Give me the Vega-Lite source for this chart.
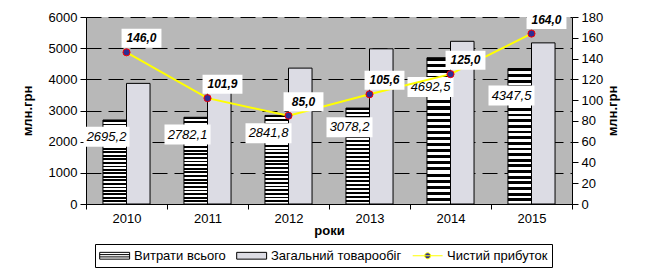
{
  "$schema": "https://vega.github.io/schema/vega-lite/v6.json",
  "width": 486,
  "height": 187,
  "autosize": {"type": "none"},
  "padding": {"left": 86, "top": 17, "right": 76, "bottom": 72},
  "background": "white",
  "config": {
    "locale": {"number": {"decimal": ",", "thousands": "", "grouping": [3], "currency": ["", ""]}},
    "view": {"fill": "#b8b8b8", "stroke": null},
    "font": "Liberation Sans",
    "axis": {"labelFont": "Liberation Sans", "labelFontSize": 13, "labelColor": "black", "domainColor": "black", "tickColor": "black", "titleFont": "Liberation Sans", "titleFontSize": 13, "titleFontWeight": "bold", "titleColor": "black", "labelOverlap": false}
  },
  "data": {"values": [
    {"year": "2010", "series": "Витрати всього", "value": 2695.2},
    {"year": "2011", "series": "Витрати всього", "value": 2782.1},
    {"year": "2012", "series": "Витрати всього", "value": 2841.8},
    {"year": "2013", "series": "Витрати всього", "value": 3078.2},
    {"year": "2014", "series": "Витрати всього", "value": 4692.5},
    {"year": "2015", "series": "Витрати всього", "value": 4347.5},
    {"year": "2010", "series": "Загальний товарообіг", "value": 3870},
    {"year": "2011", "series": "Загальний товарообіг", "value": 3980},
    {"year": "2012", "series": "Загальний товарообіг", "value": 4360},
    {"year": "2013", "series": "Загальний товарообіг", "value": 4980},
    {"year": "2014", "series": "Загальний товарообіг", "value": 5220},
    {"year": "2015", "series": "Загальний товарообіг", "value": 5170},
    {"year": "2010", "series": "Чистий прибуток", "value": 146.0},
    {"year": "2011", "series": "Чистий прибуток", "value": 101.9},
    {"year": "2012", "series": "Чистий прибуток", "value": 85.0},
    {"year": "2013", "series": "Чистий прибуток", "value": 105.6},
    {"year": "2014", "series": "Чистий прибуток", "value": 125.0},
    {"year": "2015", "series": "Чистий прибуток", "value": 164.0}
  ]},
  "encoding": {
    "x": {"field": "year", "type": "nominal", "scale": {"paddingInner": 0, "paddingOuter": 0},
      "axis": {"title": "роки", "labelAngle": 0, "tickBand": "extent", "tickSize": 5, "labelPadding": 3, "titlePadding": -1}}
  },
  "layer": [
    {"encoding": {
        "y": {"field": "value", "type": "quantitative", "scale": {"domain": [0, 6000]},
          "axis": {"title": "млн.грн", "values": [0, 1000, 2000, 3000, 4000, 5000, 6000], "grid": true, "gridColor": "black", "gridDash": [15, 7], "gridOpacity": 1, "gridWidth": 1, "tickSize": 6, "labelPadding": 3, "titlePadding": 14}}
      },
      "layer": [
      {"transform": [{"filter": "datum.series !== 'Чистий прибуток'"}],
        "mark": {"type": "bar", "stroke": "black", "strokeWidth": 1},
        "encoding": {
          "xOffset": {"field": "series", "scale": {"domain": ["Витрати всього", "Загальний товарообіг"], "paddingInner": 0, "paddingOuter": 0.72}},
          "fill": {"field": "series", "type": "nominal", "title": null,
            "condition": {"test": "datum.series === 'Витрати всього'", "value":
                {"gradient": "linear", "x1": 0, "y1": 0, "x2": 0, "y2": 1, "stops": [
                  {"offset": 0, "color": "black"}, {"offset": 0.0208, "color": "black"}, {"offset": 0.0208, "color": "white"}, {"offset": 0.0417, "color": "white"},
                  {"offset": 0.0417, "color": "black"}, {"offset": 0.0625, "color": "black"}, {"offset": 0.0625, "color": "white"}, {"offset": 0.0833, "color": "white"},
                  {"offset": 0.0833, "color": "black"}, {"offset": 0.1042, "color": "black"}, {"offset": 0.1042, "color": "white"}, {"offset": 0.125, "color": "white"},
                  {"offset": 0.125, "color": "black"}, {"offset": 0.1458, "color": "black"}, {"offset": 0.1458, "color": "white"}, {"offset": 0.1667, "color": "white"},
                  {"offset": 0.1667, "color": "black"}, {"offset": 0.1875, "color": "black"}, {"offset": 0.1875, "color": "white"}, {"offset": 0.2083, "color": "white"},
                  {"offset": 0.2083, "color": "black"}, {"offset": 0.2292, "color": "black"}, {"offset": 0.2292, "color": "white"}, {"offset": 0.25, "color": "white"},
                  {"offset": 0.25, "color": "black"}, {"offset": 0.2708, "color": "black"}, {"offset": 0.2708, "color": "white"}, {"offset": 0.2917, "color": "white"},
                  {"offset": 0.2917, "color": "black"}, {"offset": 0.3125, "color": "black"}, {"offset": 0.3125, "color": "white"}, {"offset": 0.3333, "color": "white"},
                  {"offset": 0.3333, "color": "black"}, {"offset": 0.3542, "color": "black"}, {"offset": 0.3542, "color": "white"}, {"offset": 0.375, "color": "white"},
                  {"offset": 0.375, "color": "black"}, {"offset": 0.3958, "color": "black"}, {"offset": 0.3958, "color": "white"}, {"offset": 0.4167, "color": "white"},
                  {"offset": 0.4167, "color": "black"}, {"offset": 0.4375, "color": "black"}, {"offset": 0.4375, "color": "white"}, {"offset": 0.4583, "color": "white"},
                  {"offset": 0.4583, "color": "black"}, {"offset": 0.4792, "color": "black"}, {"offset": 0.4792, "color": "white"}, {"offset": 0.5, "color": "white"},
                  {"offset": 0.5, "color": "black"}, {"offset": 0.5208, "color": "black"}, {"offset": 0.5208, "color": "white"}, {"offset": 0.5417, "color": "white"},
                  {"offset": 0.5417, "color": "black"}, {"offset": 0.5625, "color": "black"}, {"offset": 0.5625, "color": "white"}, {"offset": 0.5833, "color": "white"},
                  {"offset": 0.5833, "color": "black"}, {"offset": 0.6042, "color": "black"}, {"offset": 0.6042, "color": "white"}, {"offset": 0.625, "color": "white"},
                  {"offset": 0.625, "color": "black"}, {"offset": 0.6458, "color": "black"}, {"offset": 0.6458, "color": "white"}, {"offset": 0.6667, "color": "white"},
                  {"offset": 0.6667, "color": "black"}, {"offset": 0.6875, "color": "black"}, {"offset": 0.6875, "color": "white"}, {"offset": 0.7083, "color": "white"},
                  {"offset": 0.7083, "color": "black"}, {"offset": 0.7292, "color": "black"}, {"offset": 0.7292, "color": "white"}, {"offset": 0.75, "color": "white"},
                  {"offset": 0.75, "color": "black"}, {"offset": 0.7708, "color": "black"}, {"offset": 0.7708, "color": "white"}, {"offset": 0.7917, "color": "white"},
                  {"offset": 0.7917, "color": "black"}, {"offset": 0.8125, "color": "black"}, {"offset": 0.8125, "color": "white"}, {"offset": 0.8333, "color": "white"},
                  {"offset": 0.8333, "color": "black"}, {"offset": 0.8542, "color": "black"}, {"offset": 0.8542, "color": "white"}, {"offset": 0.875, "color": "white"},
                  {"offset": 0.875, "color": "black"}, {"offset": 0.8958, "color": "black"}, {"offset": 0.8958, "color": "white"}, {"offset": 0.9167, "color": "white"},
                  {"offset": 0.9167, "color": "black"}, {"offset": 0.9375, "color": "black"}, {"offset": 0.9375, "color": "white"}, {"offset": 0.9583, "color": "white"},
                  {"offset": 0.9583, "color": "black"}, {"offset": 0.9792, "color": "black"}, {"offset": 0.9792, "color": "white"}, {"offset": 1, "color": "white"}
                ]}},
            "scale": {"domain": ["Витрати всього", "Загальний товарообіг", "Чистий прибуток"], "range": ["white", "#dcdce4", "#2e2e92"]},
            "legend": {"orient": "none", "legendX": 9, "legendY": 227, "direction": "horizontal", "title": null,
              "strokeColor": "black", "fillColor": "white", "padding": 4, "symbolSize": 185, "symbolOpacity": 1, "symbolStrokeWidth": 1,
              "labelFontSize": 13, "labelFont": "Liberation Sans", "labelColor": "black", "columnPadding": 8, "labelOffset": 20}
          }
        }
      },
      {"mark": {"type": "point", "filled": true, "opacity": 0},
        "encoding": {
          "fill": {"field": "series", "type": "nominal", "title": null},
          "shape": {"field": "series", "type": "nominal", "title": null,
            "scale": {"domain": ["Витрати всього", "Загальний товарообіг", "Чистий прибуток"],
              "range": ["M-1,-0.5H3.4V0.5H-1ZM-1,-0.17H3.4M-1,0.17H3.4", "M-1,-0.5H3.4V0.5H-1Z", "M-1,0H3.4M0.76,0A0.44,0.44 0 1,0 1.64,0A0.44,0.44 0 1,0 0.76,0Z"]}},
          "stroke": {"field": "series", "type": "nominal", "title": null,
            "scale": {"domain": ["Витрати всього", "Загальний товарообіг", "Чистий прибуток"], "range": ["black", "black", "#ffff00"]}}
        }
      },
      {"transform": [{"filter": "datum.series === 'Витрати всього'"}],
        "mark": {"type": "point", "filled": true, "fill": "white", "opacity": 1, "shape": "M-2.3,-1H2.3V1H-2.3Z", "size": 400, "xOffset": -20, "yOffset": {"expr": "datum.value * 0.00623"}}
      },
      {"transform": [{"filter": "datum.series === 'Витрати всього'"}],
        "mark": {"type": "text", "fontStyle": "italic", "fontSize": 13, "font": "Liberation Sans", "color": "black", "xOffset": -20, "yOffset": {"expr": "datum.value * 0.00623"}, "baseline": "middle"},
        "encoding": {"text": {"field": "value", "type": "quantitative", "format": ".1f"}}
      }
    ]},
    {"transform": [{"filter": "datum.series === 'Чистий прибуток'"}],
      "encoding": {
        "y": {"field": "value", "type": "quantitative", "scale": {"domain": [0, 180]},
          "axis": {"orient": "right", "title": "млн.грн", "titleAngle": -90, "values": [0, 20, 40, 60, 80, 100, 120, 140, 160, 180], "grid": false, "tickSize": 6, "labelPadding": 3, "titlePadding": 17}}
      },
      "layer": [
      {"mark": {"type": "line", "color": "#ffff00", "strokeWidth": 2}},
      {"mark": {"type": "point", "filled": true, "fill": "#2e2e92", "stroke": "red", "strokeWidth": 1, "size": 50, "opacity": 1}},
      {"mark": {"type": "point", "filled": true, "fill": "white", "opacity": 1, "shape": "M-2.1,-1H2.1V1H-2.1Z", "size": 361, "xOffset": 15, "yOffset": -14}},
      {"mark": {"type": "text", "fontStyle": "italic", "fontWeight": "bold", "fontSize": 12, "font": "Liberation Sans", "color": "black", "xOffset": 15, "yOffset": -14, "baseline": "middle"},
        "encoding": {"text": {"field": "value", "type": "quantitative", "format": ".1f"}}
      }
    ]}
  ],
  "resolve": {"scale": {"y": "independent"}}
}
